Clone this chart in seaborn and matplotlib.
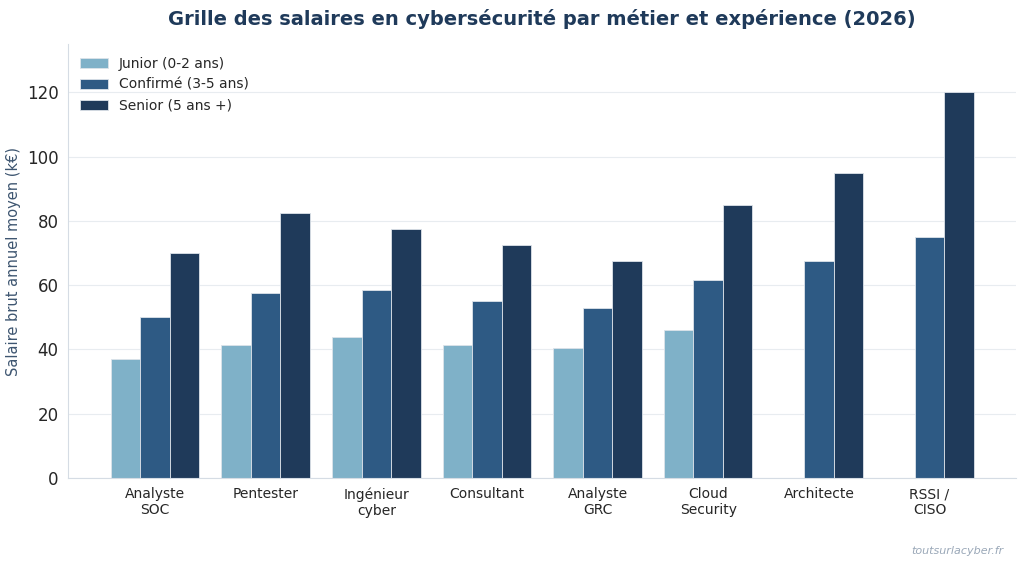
import numpy as np
import pandas as pd
import matplotlib
matplotlib.use("Agg")
import matplotlib.pyplot as plt
import seaborn as sns

# ----------------------------------------------------------
# DATA
# ----------------------------------------------------------

metiers = ["Analyste\nSOC", "Pentester", "Ingénieur\ncyber", "Consultant",
           "Analyste\nGRC", "Cloud\nSecurity", "Architecte", "RSSI /\nCISO"]
junior = [37, 41.5, 44, 41.5, 40.5, 46, np.nan, np.nan]
confirme = [50, 57.5, 58.5, 55, 53, 61.5, 67.5, 75]
senior = [70, 82.5, 77.5, 72.5, 67.5, 85, 95, 120]

niveaux = ["Junior (0-2 ans)", "Confirmé (3-5 ans)", "Senior (5 ans +)"]
couleurs = ["#7fb1c8", "#2e5a84", "#1f3a5a"]

df = pd.DataFrame({"Metier": metiers * 3,
                   "Niveau": np.repeat(niveaux, len(metiers)),
                   "Salaire": junior + confirme + senior})

# ----------------------------------------------------------
# PLOT
# ----------------------------------------------------------

sns.set_style("white")
plt.rcParams['font.family'] = ['DejaVu Sans']

fig, ax = plt.subplots(figsize=(10.24, 5.67), dpi=100)

sns.barplot(data=df, x="Metier", y="Salaire", hue="Niveau",
            hue_order=niveaux, palette=couleurs, width=0.8, saturation=1,
            edgecolor="#dde3ea", linewidth=0.6, ax=ax)

ax.set_ylim(0, 135)
ax.set_xlim(-0.79, 7.78)
ax.set_yticks([0, 20, 40, 60, 80, 100, 120])
ax.yaxis.grid(True, color="#e8ecf0", linewidth=0.8)
ax.set_axisbelow(True)

ax.set_xlabel("")
ax.set_ylabel("Salaire brut annuel moyen (k€)", fontsize=10.5, color="#3d5570")
ax.set_title("Grille des salaires en cybersécurité par métier et expérience (2026)",
             fontsize=14, fontweight="bold", color="#1f3a5a", pad=14)

ax.tick_params(axis="y", labelsize=12, length=3, color="#555555")
ax.tick_params(axis="x", labelsize=10, length=3, color="#555555")

for s in ["top", "right"]:
    ax.spines[s].set_visible(False)
for s in ["left", "bottom"]:
    ax.spines[s].set_color("#d5dce4")

ax.legend(loc="upper left", frameon=False, fontsize=10)

fig.text(0.98, 0.02, "toutsurlacyber.fr", ha="right", va="bottom",
         fontsize=8, style="italic", color="#9aa8b8")

plt.subplots_adjust(left=0.066, right=0.992, top=0.922, bottom=0.157)
plt.savefig("out.png", dpi=100)
